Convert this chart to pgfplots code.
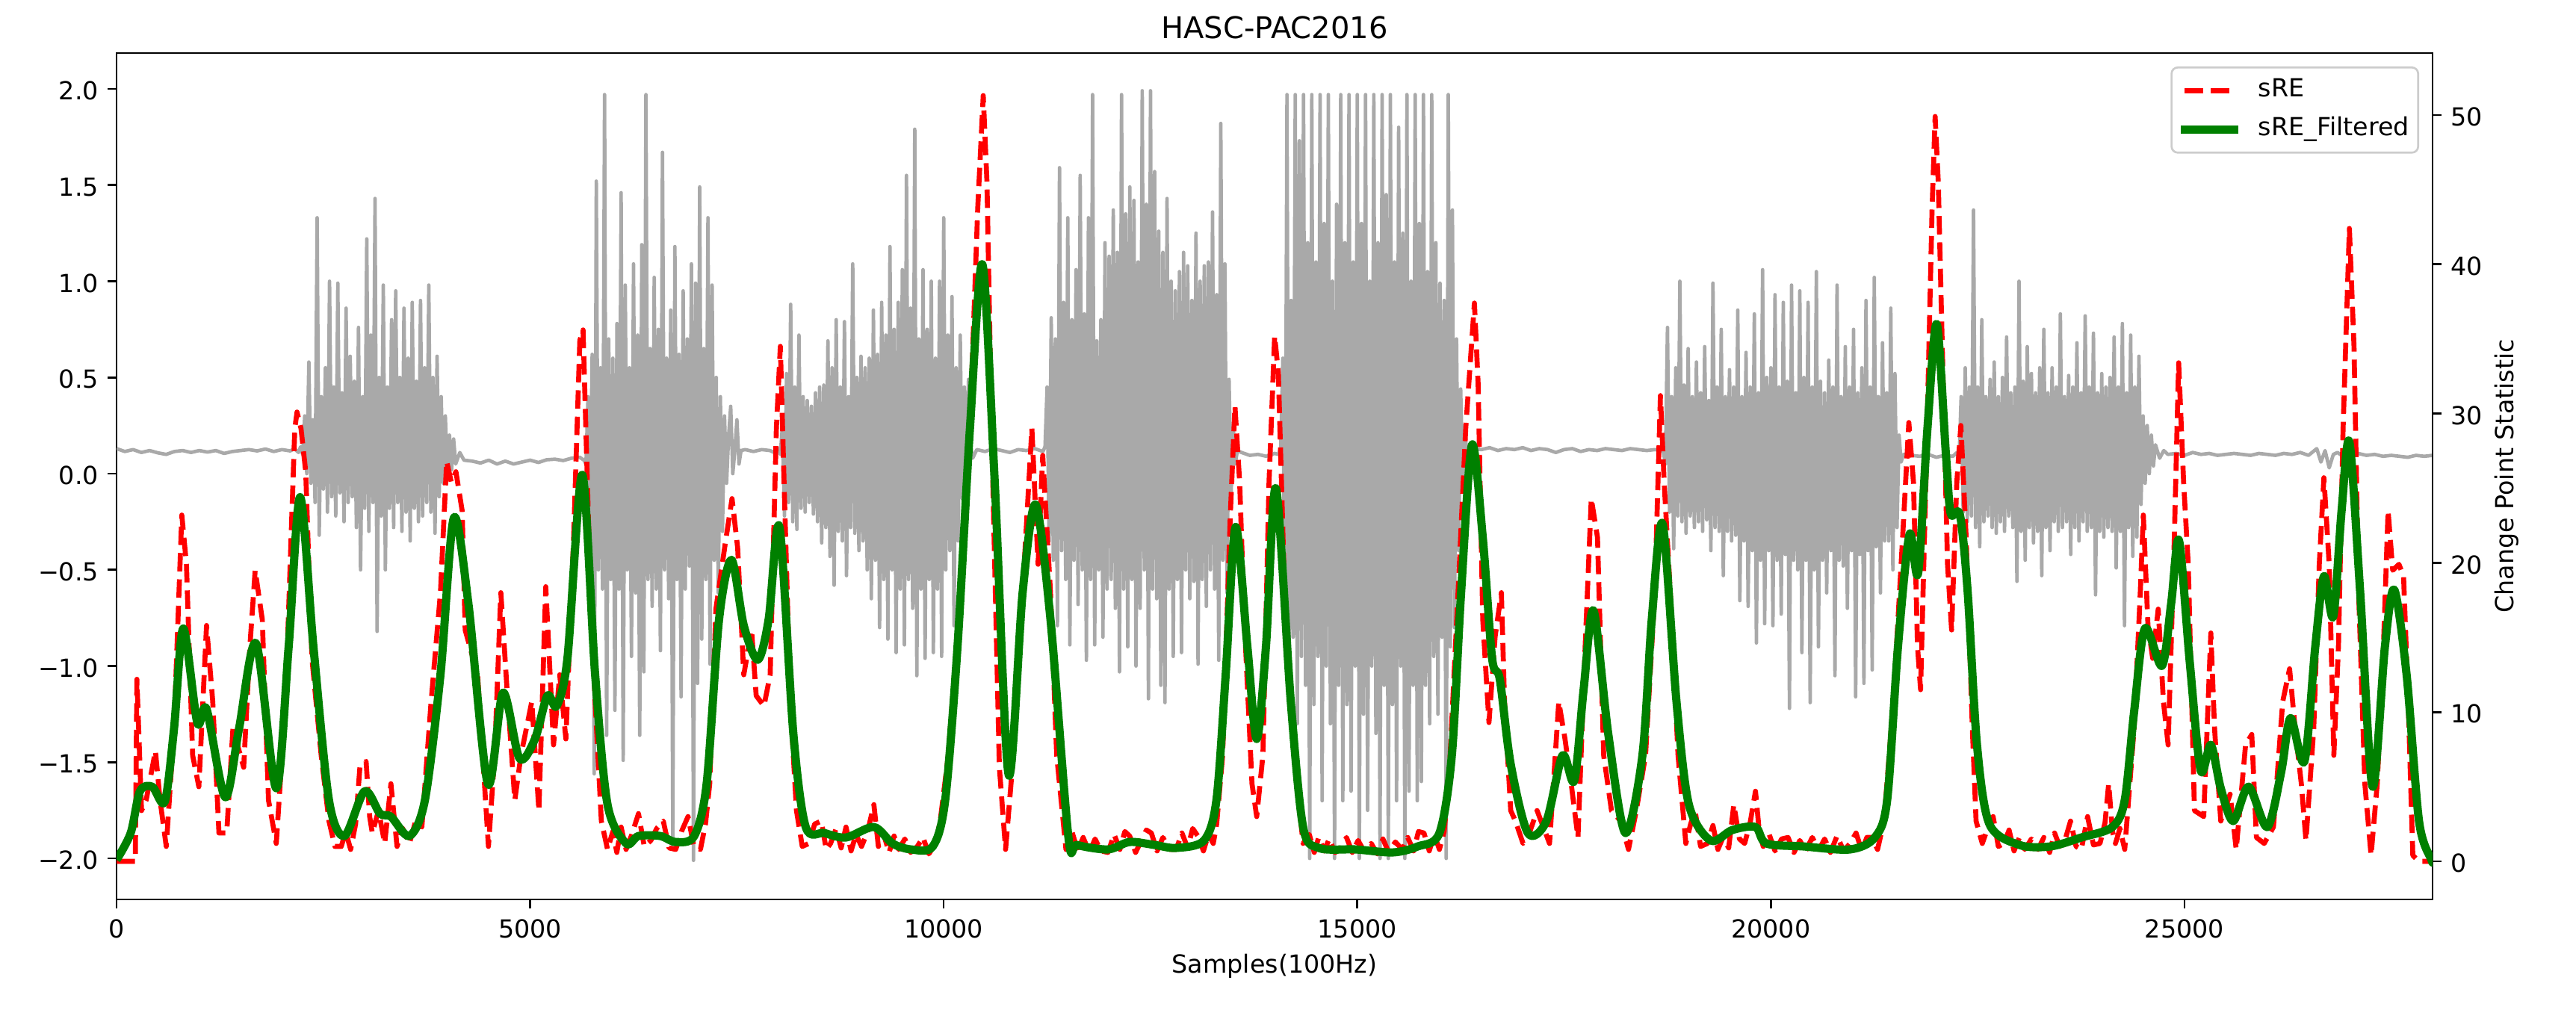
\documentclass[border=0pt]{standalone}
\usepackage{fontspec}
\setmainfont{DejaVu Sans}
\usepackage{pgfplots}
\pgfplotsset{compat=1.18}
\definecolor{dgray}{RGB}{169,169,169}
\definecolor{mplgreen}{RGB}{0,128,0}
\definecolor{legedge}{RGB}{204,204,204}
\pgfplotsset{
  common/.style={
    width=930pt, height=339.9pt, scale only axis,
    xmin=0, xmax=28000,
    axis line style={line width=0.8pt, black},
    tick align=inside,
    major tick length=-3.5pt,
    every tick/.style={black, line width=0.8pt},
    no markers,
    /pgf/number format/assume math mode=true,
  },
  buttlegend/.style={legend image code/.code={\draw[##1, line cap=butt] (0pt,0pt) -- (20pt,0pt);}},
  rectlegend/.style={legend image code/.code={\draw[##1, line cap=rect] (0pt,0pt) -- (20pt,0pt);}},
}
\begin{document}
\begin{tikzpicture}
\begin{axis}[common, name=ax,
  ymin=-2.213, ymax=2.186,
  xtick={0,5000,10000,15000,20000,25000},
  xticklabels={0,5000,10000,15000,20000,25000},
  scaled x ticks=false, scaled y ticks=false,
  ytick={-2,-1.5,-1,-0.5,0,0.5,1,1.5,2},
  yticklabels={−2.0,−1.5,−1.0,−0.5,0.0,0.5,1.0,1.5,2.0},
  xtick pos=bottom, ytick pos=left,
  xticklabel style={anchor=base, inner sep=0pt, yshift=-15.6pt},
  yticklabel style={anchor=east, inner sep=0pt, xshift=-7pt, yshift=-0.75pt},
  title={HASC-PAC2016},
  every axis title/.style={at={(axis description cs:0.5,1)}, anchor=base, inner sep=0pt, yshift=5.8pt, font=\fontsize{12}{14.4}\selectfont},
  xlabel={Samples(100Hz)},
  xlabel style={at={(axis description cs:0.5,0)}, anchor=base, inner sep=0pt, yshift=-29.7pt},
]
\addplot[dgray, line width=1.4pt, line join=round] coordinates {
(0,0.13)(100,0.115)(200,0.125)(300,0.11)(400,0.12)(500,0.108)(600,0.10)(700,0.115)(800,0.12)(900,0.11)(1000,0.12)(1100,0.112)(1200,0.12)(1300,0.105)(1400,0.115)(1500,0.12)(1600,0.125)(1700,0.118)(1800,0.128)(1900,0.115)(2000,0.125)(2100,0.118)(2150,0.13)(2200,0.11)
(2225,0.14)(2250,0.10)
(2275,0.30)(2300,0.00)(2325,0.58)(2350,-0.05)(2375,0.28)(2400,-0.15)(2425,1.33)(2450,-0.32)(2475,0.40)(2500,-0.08)(2525,0.55)(2550,-0.20)(2575,1.00)(2600,-0.12)(2625,0.45)(2650,-0.22)(2675,0.99)(2700,-0.10)(2725,0.42)(2750,-0.25)(2775,0.86)(2800,-0.15)(2825,0.61)(2850,-0.12)(2875,0.48)(2900,-0.28)(2925,0.76)(2950,-0.50)(2975,0.40)(3000,-0.18)(3025,1.22)(3050,-0.30)(3075,0.72)(3100,-0.15)(3125,1.43)(3150,-0.82)(3175,0.50)(3200,-0.22)(3225,0.98)(3250,-0.50)(3275,0.45)(3300,-0.18)(3325,0.80)(3350,-0.28)(3375,0.95)(3400,-0.15)(3425,0.50)(3450,-0.30)(3475,0.86)(3500,-0.20)(3525,0.60)(3550,-0.35)(3575,0.89)(3600,-0.18)(3625,0.48)(3650,-0.25)(3675,0.90)(3700,-0.22)(3725,0.55)(3750,-0.15)(3775,0.98)(3800,-0.20)(3825,0.50)(3850,-0.31)(3875,0.61)(3900,-0.12)(3925,0.40)(3950,-0.05)(3975,0.30)(4000,0.00)(4025,0.20)(4050,0.02)(4075,0.18)(4100,0.05)(4150,0.11)(4200,0.07)
(4300,0.065)(4400,0.055)(4500,0.07)(4600,0.05)(4700,0.065)(4800,0.05)(4900,0.06)(5000,0.07)(5100,0.058)(5200,0.072)(5300,0.075)(5400,0.068)(5500,0.08)(5600,0.085)(5650,0.07)
(5675,0.05)(5700,0.40)(5725,-0.30)(5750,0.62)(5775,-1.56)(5800,1.52)(5825,-0.50)(5850,0.55)(5875,-0.60)(5900,1.97)(5925,-1.36)(5950,0.70)(5975,-0.55)(6000,0.60)(6025,-1.23)(6050,0.78)(6075,-0.60)(6100,1.46)(6125,-1.49)(6150,0.98)(6175,-0.50)(6200,0.55)(6225,-0.95)(6250,1.09)(6275,-0.62)(6300,0.72)(6325,-1.36)(6350,1.19)(6375,-1.03)(6400,1.97)(6425,-0.55)(6450,0.65)(6475,-0.69)(6500,1.02)(6525,-0.60)(6550,0.75)(6575,-0.92)(6600,1.67)(6625,-0.50)(6650,0.60)(6675,-0.65)(6700,0.85)(6725,-1.93)(6750,1.18)(6775,-0.55)(6800,0.62)(6825,-1.16)(6850,0.95)(6875,-0.60)(6900,0.70)(6925,-0.48)(6950,1.09)(6975,-2.01)(7000,0.99)(7025,-1.09)(7050,1.49)(7075,-0.86)(7100,0.65)(7125,-0.55)(7150,1.33)(7175,-0.99)(7200,0.98)(7225,-0.45)(7250,0.50)(7275,-0.62)(7300,0.40)(7325,-0.30)(7350,0.30)(7375,-0.05)(7400,0.20)(7425,0.35)(7450,0.00)(7475,0.12)(7500,0.28)(7525,0.05)(7550,0.12)
(7600,0.125)(7700,0.115)(7800,0.125)(7900,0.12)(7950,0.11)(8000,0.13)(8025,0.10)
(8050,0.25)(8075,-0.22)(8100,0.52)(8125,-0.15)(8150,0.88)(8175,-0.25)(8200,0.45)(8225,-0.29)(8250,0.72)(8275,-0.18)(8300,0.40)(8325,-0.20)(8350,0.38)(8375,-0.15)(8400,0.35)(8425,-0.21)(8450,0.42)(8475,-0.25)(8500,0.45)(8525,-0.36)(8550,0.46)(8575,-0.28)(8600,0.69)(8625,-0.43)(8650,0.55)(8675,-0.58)(8700,0.80)(8725,-0.30)(8750,0.45)(8775,-0.35)(8800,0.79)(8825,-0.53)(8850,0.40)(8875,-0.28)(8900,1.09)(8925,-0.31)(8950,0.50)(8975,-0.40)(9000,0.61)(9025,-0.35)(9050,0.55)(9075,-0.50)(9100,0.60)(9125,-0.65)(9150,0.85)(9175,-0.45)(9200,0.62)(9225,-0.80)(9250,0.89)(9275,-0.55)(9300,0.72)(9325,-0.86)(9350,1.18)(9375,-0.50)(9400,0.75)(9425,-0.93)(9450,0.89)(9475,-0.60)(9500,1.06)(9525,-0.89)(9550,1.55)(9575,-0.55)(9600,0.86)(9625,-0.70)(9650,1.79)(9675,-1.05)(9700,0.70)(9725,-0.60)(9750,1.06)(9775,-0.96)(9800,0.75)(9825,-0.55)(9850,1.00)(9875,-0.93)(9900,0.60)(9925,-0.60)(9950,1.00)(9975,-0.95)(10000,1.33)(10025,-0.50)(10050,0.72)(10075,-0.40)(10100,0.92)(10125,-0.79)(10150,0.55)(10175,-0.35)(10200,0.72)(10225,-0.13)(10250,0.45)(10275,-0.10)(10300,0.49)(10325,0.15)(10350,0.08)
(10400,0.125)(10500,0.115)(10600,0.13)(10700,0.12)(10800,0.11)(10900,0.125)(11000,0.12)(11100,0.13)(11200,0.115)(11225,0.14)
(11250,0.45)(11275,-0.35)(11300,0.81)(11325,-0.45)(11350,0.70)(11375,-0.79)(11400,1.59)(11425,-0.40)(11450,0.89)(11475,-0.55)(11500,1.33)(11525,-0.89)(11550,0.80)(11575,-0.45)(11600,1.06)(11625,-0.68)(11650,1.55)(11675,-0.50)(11700,0.83)(11725,-0.97)(11750,1.33)(11775,-0.55)(11800,1.97)(11825,-0.89)(11850,0.69)(11875,-0.50)(11900,0.80)(11925,-0.85)(11950,1.20)(11975,-0.60)(12000,1.13)(12025,-0.55)(12050,1.37)(12075,-0.70)(12100,1.15)(12125,-1.03)(12150,1.97)(12175,-0.60)(12200,1.35)(12225,-0.90)(12250,1.49)(12275,-0.55)(12300,1.42)(12325,-1.00)(12350,1.10)(12375,-0.70)(12400,1.99)(12425,-0.50)(12450,1.40)(12475,-1.17)(12500,1.99)(12525,-0.60)(12550,1.57)(12575,-0.65)(12600,1.26)(12625,-1.10)(12650,1.15)(12675,-1.19)(12700,1.43)(12725,-0.60)(12750,1.00)(12775,-0.95)(12800,0.95)(12825,-0.55)(12850,1.05)(12875,-0.93)(12900,1.15)(12925,-0.50)(12950,1.08)(12975,-0.65)(13000,0.90)(13025,-0.56)(13050,1.25)(13075,-0.99)(13100,1.00)(13125,-0.55)(13150,1.08)(13175,-0.69)(13200,1.10)(13225,-0.50)(13250,1.36)(13275,-0.60)(13300,0.93)(13325,-0.97)(13350,1.82)(13375,-0.45)(13400,1.09)(13425,-0.62)(13450,0.49)(13475,-0.10)(13500,0.25)(13525,0.05)(13550,0.12)
(13600,0.11)(13700,0.095)(13800,0.10)(13900,0.09)(14000,0.105)(14050,0.10)(14075,0.14)
(14100,0.60)(14125,-0.90)(14150,1.97)(14175,-1.20)(14200,0.90)(14225,-0.85)(14250,1.97)(14275,-1.30)(14300,1.73)(14325,-0.95)(14350,1.97)(14375,-1.10)(14400,1.20)(14425,-2.00)(14450,1.97)(14475,-1.20)(14500,1.10)(14525,-0.95)(14550,1.97)(14575,-1.70)(14600,1.30)(14625,-1.00)(14650,1.97)(14675,-1.30)(14700,1.00)(14725,-2.00)(14750,1.40)(14775,-1.10)(14800,1.97)(14825,-1.70)(14850,1.20)(14875,-1.20)(14900,1.97)(14925,-1.65)(14950,1.10)(14975,-1.00)(15000,1.97)(15025,-2.00)(15050,1.30)(15075,-1.25)(15100,1.97)(15125,-1.75)(15150,1.00)(15175,-1.00)(15200,1.97)(15225,-1.35)(15250,1.20)(15275,-2.00)(15300,1.97)(15325,-1.10)(15350,1.45)(15375,-2.00)(15400,1.97)(15425,-1.20)(15450,1.10)(15475,-1.70)(15500,1.80)(15525,-1.00)(15550,1.25)(15575,-2.00)(15600,1.97)(15625,-1.65)(15650,1.00)(15675,-1.10)(15700,1.97)(15725,-1.70)(15750,1.30)(15775,-1.60)(15800,1.97)(15825,-1.10)(15850,1.05)(15875,-1.30)(15900,1.97)(15925,-0.95)(15950,1.20)(15975,-1.25)(16000,0.99)(16025,-0.85)(16050,0.90)(16075,-2.00)(16100,1.97)(16125,-0.90)(16150,1.37)(16175,-0.80)(16200,0.70)(16225,-0.40)(16250,0.44)(16275,-0.05)(16300,0.25)(16325,0.08)(16350,0.14)
(16400,0.13)(16500,0.125)(16600,0.135)(16700,0.12)(16800,0.13)(16900,0.125)(17000,0.135)(17100,0.12)(17200,0.13)(17300,0.125)(17400,0.11)(17500,0.125)(17600,0.13)(17700,0.115)(17800,0.125)(17900,0.12)(18000,0.13)(18100,0.125)(18200,0.12)(18300,0.13)(18400,0.125)(18500,0.12)(18600,0.125)(18700,0.115)
(18725,0.05)(18750,0.76)(18775,-0.20)(18800,0.40)(18825,-0.39)(18850,0.55)(18875,-0.22)(18900,1.00)(18925,-0.25)(18950,0.46)(18975,-0.31)(19000,0.65)(19025,-0.22)(19050,0.40)(19075,-0.28)(19100,0.58)(19125,-0.25)(19150,0.42)(19175,-0.30)(19200,0.66)(19225,-0.24)(19250,0.38)(19275,-0.40)(19300,0.99)(19325,-0.28)(19350,0.45)(19375,-0.30)(19400,0.75)(19425,-0.53)(19450,0.40)(19475,-0.30)(19500,0.54)(19525,-0.35)(19550,0.45)(19575,-0.32)(19600,0.85)(19625,-0.66)(19650,0.40)(19675,-0.35)(19700,0.63)(19725,-0.69)(19750,0.45)(19775,-0.40)(19800,0.83)(19825,-0.88)(19850,0.42)(19875,-0.45)(19900,1.06)(19925,-0.78)(19950,0.50)(19975,-0.40)(20000,0.55)(20025,-0.79)(20050,0.93)(20075,-0.45)(20100,0.45)(20125,-0.73)(20150,0.89)(20175,-0.42)(20200,0.48)(20225,-1.22)(20250,0.98)(20275,-0.45)(20300,0.42)(20325,-0.50)(20350,0.95)(20375,-0.93)(20400,0.50)(20425,-0.45)(20450,0.89)(20475,-1.19)(20500,0.45)(20525,-0.50)(20550,1.05)(20575,-0.90)(20600,0.48)(20625,-0.45)(20650,0.42)(20675,-0.62)(20700,0.59)(20725,-0.40)(20750,0.45)(20775,-1.05)(20800,0.98)(20825,-0.45)(20850,0.40)(20875,-0.48)(20900,0.66)(20925,-0.70)(20950,0.45)(20975,-0.40)(21000,0.75)(21025,-1.16)(21050,0.42)(21075,-0.42)(21100,0.55)(21125,-1.09)(21150,0.90)(21175,-0.40)(21200,0.45)(21225,-1.02)(21250,1.02)(21275,-0.38)(21300,0.40)(21325,-0.62)(21350,0.68)(21375,-0.35)(21400,0.42)(21425,-0.35)(21450,0.86)(21475,-0.50)(21500,0.52)(21525,-0.28)(21550,0.20)(21575,0.06)(21600,0.10)
(21700,0.095)(21800,0.09)(21900,0.10)(22000,0.085)(22100,0.095)(22200,0.09)(22250,0.11)(22275,0.06)
(22300,0.40)(22325,-0.20)(22350,0.55)(22375,-0.25)(22400,0.45)(22425,-0.22)(22450,1.37)(22475,-0.28)(22500,0.45)(22525,-0.38)(22550,0.80)(22575,-0.25)(22600,0.40)(22625,-0.22)(22650,0.49)(22675,-0.28)(22700,0.58)(22725,-0.31)(22750,0.40)(22775,-0.25)(22800,0.50)(22825,-0.30)(22850,0.71)(22875,-0.22)(22900,0.42)(22925,-0.28)(22950,0.45)(22975,-0.56)(23000,1.00)(23025,-0.30)(23050,0.48)(23075,-0.45)(23100,0.66)(23125,-0.28)(23150,0.52)(23175,-0.36)(23200,0.42)(23225,-0.30)(23250,0.55)(23275,-0.53)(23300,0.75)(23325,-0.28)(23350,0.42)(23375,-0.40)(23400,0.55)(23425,-0.25)(23450,0.45)(23475,-0.30)(23500,0.83)(23525,-0.28)(23550,0.40)(23575,-0.25)(23600,0.51)(23625,-0.42)(23650,0.45)(23675,-0.28)(23700,0.68)(23725,-0.35)(23750,0.42)(23775,-0.25)(23800,0.82)(23825,-0.30)(23850,0.45)(23875,-0.28)(23900,0.73)(23925,-0.63)(23950,0.42)(23975,-0.30)(24000,0.52)(24025,-0.33)(24050,0.45)(24075,-0.28)(24100,0.50)(24125,-0.30)(24150,0.71)(24175,-0.49)(24200,0.45)(24225,-0.30)(24250,0.78)(24275,-0.79)(24300,0.42)(24325,-0.28)(24350,0.72)(24375,-0.43)(24400,0.45)(24425,-0.33)(24450,0.61)(24475,-0.16)(24500,0.30)(24525,-0.05)(24550,0.25)(24575,0.00)(24600,0.20)(24625,0.04)(24650,0.15)(24700,0.08)(24750,0.12)
(24800,0.10)(24900,0.105)(25000,0.095)(25100,0.11)(25200,0.10)(25300,0.105)(25400,0.095)(25500,0.10)(25600,0.105)(25700,0.10)(25800,0.095)(25900,0.105)(26000,0.10)(26100,0.095)(26200,0.105)(26300,0.10)(26400,0.11)(26500,0.095)(26600,0.13)(26650,0.06)(26700,0.12)(26750,0.03)(26800,0.10)(26850,0.11)(26900,0.095)(27000,0.10)(27100,0.105)(27200,0.095)(27300,0.10)(27400,0.09)(27500,0.095)(27600,0.09)(27700,0.085)(27800,0.095)(27900,0.09)(28000,0.095)
};
\end{axis}
\begin{axis}[common,
  ymin=-2.55, ymax=54.15,
  axis y line*=right, axis x line=none,
  ytick={0,10,20,30,40,50},
  yticklabels={0,10,20,30,40,50},
  yticklabel style={anchor=west, inner sep=0pt, xshift=7pt, yshift=-0.75pt},
  ylabel={Change Point Statistic},
  ylabel style={at={(axis description cs:1.034839,0.5)}, anchor=base, inner sep=0pt},
  legend style={at={(1,1)}, anchor=north east, xshift=-5.4pt, yshift=-5.4pt,
    draw=legedge, line width=0.8pt, rounded corners=2.5pt, fill=white,
    inner xsep=3.6pt, inner ysep=4.3pt, row sep=5.6pt,
    nodes={inner sep=0pt, text height=7.6pt, text depth=2.4pt},
    /tikz/every odd column/.append style={column sep=8pt}},
  legend cell align=left,
]
\addplot[red, line width=2pt, dash pattern=on 7.4pt off 3.2pt, line join=round, buttlegend] coordinates {
(0,0)(227,0)(246,12.2)(302,3.4)(358,4.1)(470,7.4)(526,4.1)(601,1.0)(695,8.9)(789,23.2)(845,19.9)(920,7.1)(995,5.0)(1088,15.8)(1163,10.7)(1238,1.9)(1332,1.9)(1407,8.9)(1537,6.3)(1612,14.4)(1676,19.5)(1762,16.2)(1837,4.1)(1931,1.2)(2043,10.7)(2155,29.0)(2182,30.1)(2230,29.0)(2287,26.1)(2362,13.6)(2474,7.1)
(2568,2.7)(2640,1.0)(2717,1.0)(2770,2.0)(2830,0.8)(2890,2.5)(2942,6.3)(3017,6.7)(3060,3.0)(3092,1.9)(3167,3.4)(3242,1.2)(3317,5.2)(3391,1.0)(3460,2.2)(3541,1.2)(3610,2.6)(3691,2.3)
(3803,10.7)(3916,18.0)(3991,26.8)(4047,25.4)(4103,26.1)(4178,23.5)(4215,15.5)(4365,12.5)(4496,1.0)(4571,7.1)(4646,18.0)(4721,11.5)(4815,4.1)(4889,7.1)(5020,10.7)(5106,3.4)(5189,18.4)(5283,7.8)(5358,12.5)(5432,8.2)(5526,21.7)(5601,34.9)(5640,35.6)(5711,21.7)(5786,10.7)(5861,2.7)
(5936,0.8)(6000,2.0)(6048,0.6)(6100,2.3)(6160,0.8)(6230,1.8)(6310,3.2)(6380,1.0)(6460,1.4)(6530,2.2)(6610,2.7)(6680,0.9)(6760,0.8)(6830,2.0)(6909,3.0)(6980,1.0)(7059,0.8)(7120,2.5)(7171,5.2)
(7246,16.9)(7359,21.3)(7441,24.3)(7509,21.0)(7583,12.5)(7677,15.5)(7733,11.1)(7827,10.4)(7902,12.5)(7977,29.0)(8025,34.5)(8070,25.4)(8145,10.7)
(8220,3.4)(8290,1.0)(8370,1.2)(8440,2.5)(8520,2.7)(8580,0.8)(8632,1.2)(8700,2.2)(8760,0.9)(8819,2.3)(8880,0.7)(8940,1.8)(9007,1.0)(9080,2.0)(9156,3.8)(9210,1.0)(9269,1.9)(9340,0.6)(9400,1.7)(9456,0.8)(9530,1.5)(9600,0.6)(9681,1.0)(9750,1.6)(9820,0.5)(9905,1.2)(9960,2.8)
(10055,7.1)(10205,18.0)(10317,29.0)(10411,43.7)(10478,51.3)(10523,45.5)(10579,29.0)(10673,6.3)(10748,0.8)(10842,7.1)(10954,18.0)(11066,29.0)(11141,19.9)(11197,27.2)(11291,18.0)(11366,7.1)
(11478,0.8)(11550,2.0)(11620,0.7)(11686,1.6)(11760,0.6)(11830,1.5)(11900,0.7)(11986,0.6)(12060,1.8)(12130,0.8)(12190,2.0)(12248,1.7)(12320,0.6)(12390,1.4)(12450,2.1)(12510,1.9)(12580,0.7)(12650,1.6)(12730,0.8)(12810,0.8)(12880,1.9)(12950,0.9)(13010,2.2)(13072,1.7)(13140,0.7)(13200,1.8)(13259,1.2)(13300,2.5)
(13372,7.1)(13465,23.2)(13521,30.5)(13578,25.4)(13634,16.2)(13727,5.2)(13784,3.0)(13859,7.1)(13933,25.4)(14001,35.2)(14046,32.7)(14121,18.0)(14233,7.1)
(14345,1.2)(14420,1.8)(14480,0.6)(14533,1.6)(14600,0.7)(14660,1.5)(14730,0.6)(14795,0.8)(14870,1.6)(14940,0.6)(15010,1.4)(15080,0.7)(15169,1.2)(15240,0.5)(15310,1.5)(15380,0.6)(15460,1.3)(15544,0.8)(15610,1.6)(15680,0.7)(15740,2.0)(15806,1.9)(15870,0.7)(15930,1.8)(15993,0.8)(16050,2.0)
(16106,5.2)(16218,18.0)(16311,29.0)(16416,37.4)(16461,32.0)(16517,16.2)(16592,9.3)(16667,15.1)(16742,18.0)(16780,10.7)(16855,3.4)(16912,2.7)(17004,1.2)(17062,1.6)(17174,3.4)(17324,1.2)(17436,10.7)(17511,8.2)(17586,5.2)(17668,1.6)(17755,14.4)(17829,24.3)(17904,21.7)(17979,7.1)(18073,3.4)(18185,2.7)(18279,0.8)(18373,3.4)(18485,7.1)(18597,18.0)(18665,31.2)(18710,25.4)(18784,18.0)(18878,7.1)
(18972,1.2)(19030,2.5)(19084,3.4)(19150,1.0)(19234,1.2)(19300,2.4)(19360,0.8)(19421,1.6)(19490,0.9)(19552,3.8)(19620,1.5)(19683,1.2)(19750,2.6)(19814,4.7)(19860,2.0)(19908,1.0)(19980,1.8)(20050,0.7)(20130,1.5)(20208,1.6)(20280,0.6)(20350,1.4)(20420,0.7)(20500,1.6)(20582,0.8)(20650,1.5)(20720,0.6)(20800,1.7)(20880,0.7)(20957,1.2)(21030,1.9)(21100,0.7)(21160,1.6)(21219,1.6)(21290,0.8)(21368,2.7)
(21481,10.7)(21593,21.7)(21668,29.4)(21724,25.4)(21773,14.4)(21810,11.5)(21874,25.4)(21949,43.7)(21986,49.9)(22024,45.5)(22080,32.7)(22136,19.9)(22185,15.5)(22248,25.4)(22297,29.2)(22361,21.7)(22436,8.9)(22481,2.7)
(22556,1.2)(22620,2.2)(22687,3.0)(22750,1.0)(22818,1.2)(22880,2.1)(22940,0.7)(23005,1.6)(23070,0.8)(23150,1.5)(23230,0.8)(23300,1.6)(23370,0.6)(23430,1.9)(23492,1.0)(23560,1.5)(23623,2.7)(23690,1.0)(23754,0.8)(23829,3.0)(23900,1.1)(23979,1.2)(24040,2.6)(24084,5.2)(24130,2.0)(24166,1.2)(24220,2.2)(24278,0.8)
(24391,8.9)(24466,18.0)(24503,23.2)(24559,15.8)(24616,13.6)(24683,16.9)(24746,10.7)(24803,7.8)(24878,21.7)(24930,33.4)(24990,25.4)(25046,19.9)(25121,3.4)(25233,3.0)(25319,15.3)(25364,8.9)(25439,2.7)(25552,4.5)(25626,0.8)(25739,7.8)(25814,8.5)(25870,1.6)(25964,1.2)(26076,2.3)(26188,10.7)(26271,12.9)(26338,8.9)(26413,5.2)(26469,1.4)(26563,8.9)(26630,19.9)(26686,25.7)(26750,19.9)(26806,7.1)(26862,14.4)(26918,29.0)(26994,42.4)(27050,34.5)(27106,18.0)(27181,5.2)(27256,0.4)(27331,5.2)(27406,14.4)(27462,23.5)(27518,19.5)(27593,19.9)(27649,19.1)(27705,10.7)(27761,0.4)(27836,0)(28000,0)
};
\addlegendentry{sRE}
\addplot[mplgreen, line width=3.3pt, smooth, line join=round, rectlegend] coordinates {
(0,0.1)(171,1.9)(283,4.7)(433,5.0)(583,4.0)(695,8.9)(807,15.6)(976,9.3)(1088,10.2)(1313,4.3)(1481,8.9)(1687,14.6)(1931,4.9)(2081,14.4)(2219,24.4)(2380,14.4)(2568,4.1)(2755,1.7)(2998,4.7)(3185,3.2)(3317,3.0)(3541,1.7)(3728,4.1)(3916,12.5)(4077,23.0)(4253,17.3)(4489,5.2)(4672,11.3)(4871,6.9)(5058,8.2)(5208,11.1)(5320,10.4)(5451,13.6)(5630,25.9)(5786,12.5)(5936,3.8)(6160,1.2)(6310,1.7)(6572,1.7)(6760,1.3)(6984,1.7)(7134,5.2)(7284,16.2)(7434,20.2)(7583,15.8)(7752,13.5)(7883,16.2)(8014,22.4)(8183,8.5)(8332,2.3)(8557,1.9)(8819,1.6)(9156,2.3)(9381,1.2)(9606,0.8)(9868,1.0)(10018,4.1)(10167,14.4)(10317,29.0)(10467,40.0)(10617,25.4)(10785,5.8)(10954,18.0)(11111,23.9)(11291,16.2)(11508,1.6)(11612,1.1)(11986,0.8)(12248,1.3)(12548,1.1)(12810,0.9)(13147,1.4)(13297,4.1)(13409,12.5)(13529,22.4)(13671,14.4)(13784,8.2)(13896,14.4)(14016,25.0)(14196,10.7)(14345,2.3)(14533,0.9)(14982,0.8)(15431,0.6)(15731,1.0)(15993,1.9)(16143,7.1)(16255,18.0)(16386,27.9)(16517,21.7)(16630,13.6)(16723,12.2)(16855,6.5)(17062,1.9)(17286,2.7)(17481,7.1)(17623,5.4)(17736,11.5)(17856,16.8)(18035,8.5)(18241,1.9)(18447,7.1)(18560,16.2)(18691,22.6)(18859,10.7)(19009,3.8)(19271,1.4)(19533,2.1)(19814,2.3)(19945,1.2)(20395,1.0)(20957,0.8)(21256,1.6)(21406,4.1)(21537,14.4)(21676,21.9)(21780,19.3)(21893,29.0)(22005,36.0)(22117,27.2)(22174,23.3)(22286,23.2)(22380,18.0)(22492,7.8)(22642,2.5)(23005,1.1)(23380,1.0)(23754,1.6)(24129,2.3)(24278,4.1)(24391,10.0)(24522,15.6)(24728,13.1)(24840,17.3)(24934,21.5)(25065,13.3)(25196,6.1)(25319,7.8)(25439,4.9)(25589,2.7)(25776,5.0)(26001,2.3)(26170,6.0)(26282,9.6)(26450,6.7)(26582,14.4)(26686,19.1)(26799,16.4)(26900,23.5)(26994,28.1)(27125,18.0)(27274,5.0)(27424,14.4)(27536,18.2)(27686,12.5)(27836,2.7)(27986,0.1)(28000,0)
};
\addlegendentry{sRE\_Filtered}
\end{axis}
\pgfresetboundingbox
\path[use as bounding box] ([shift={(-46.8pt,-44.4pt)}]ax.south west) rectangle ([shift={(57.6pt,21.3pt)}]ax.north east);
\end{tikzpicture}
\end{document}
